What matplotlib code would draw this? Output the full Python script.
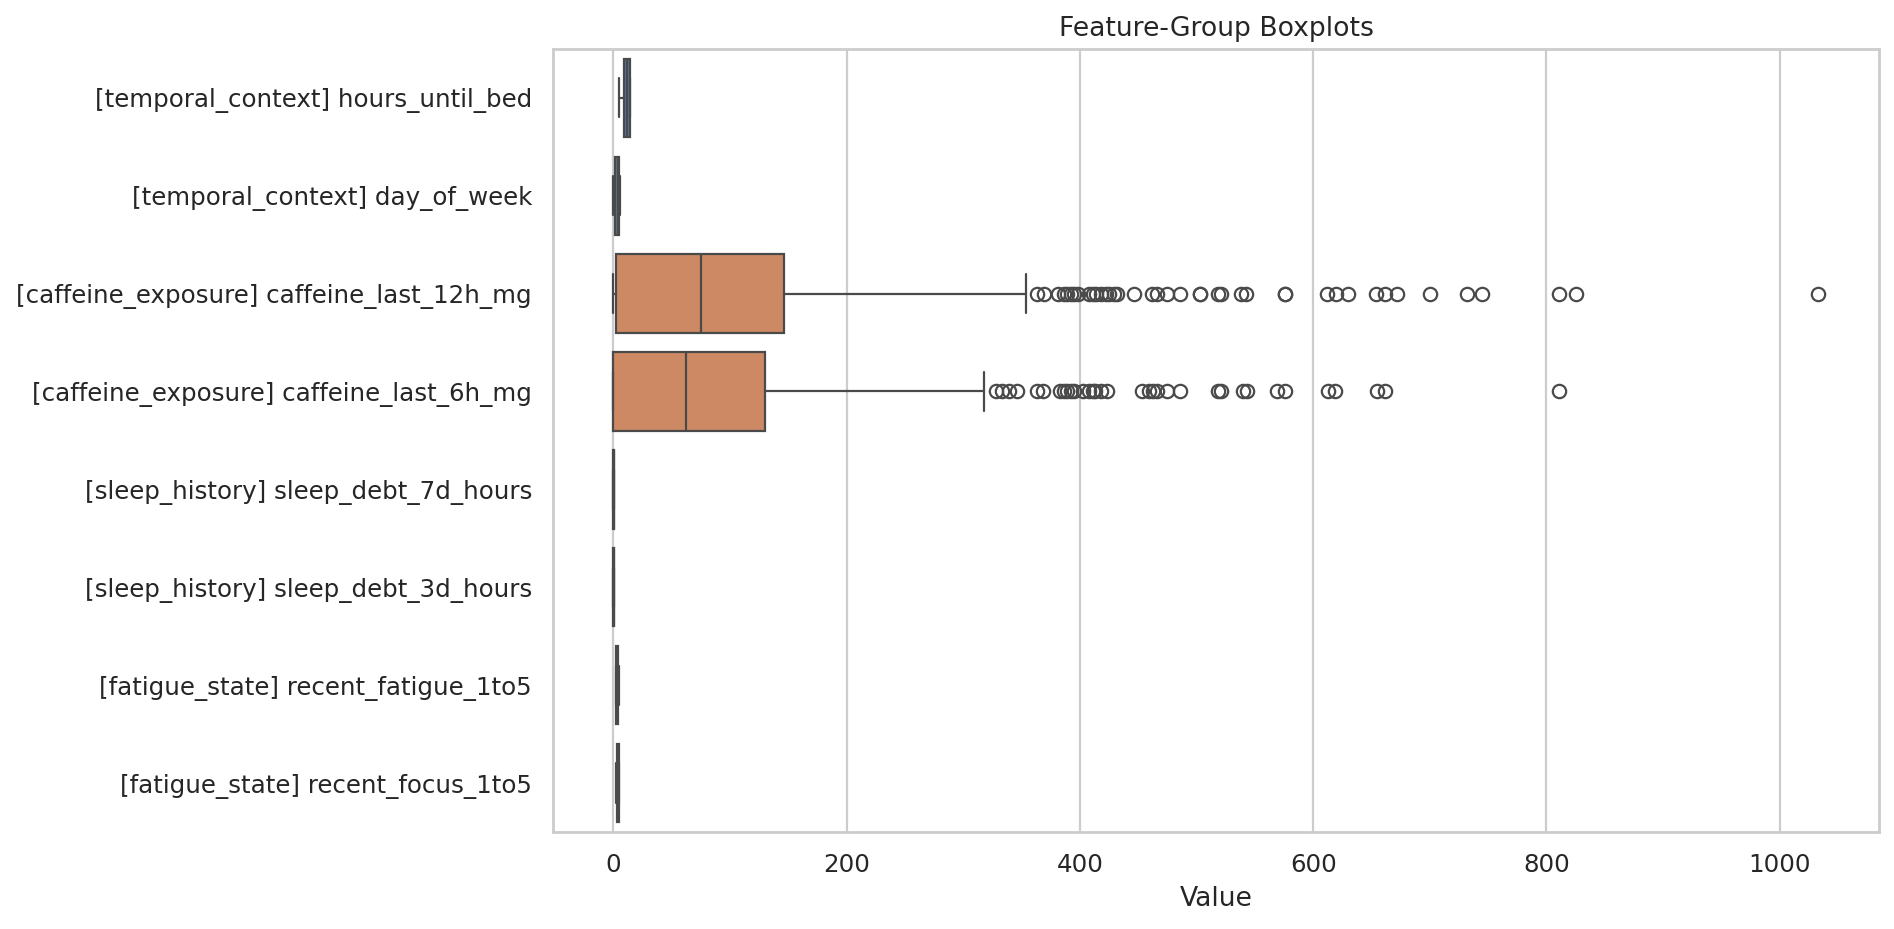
"""Horizontal boxplots of feature groups, rebuilt from summary statistics."""

import matplotlib

matplotlib.use("Agg")
import matplotlib.pyplot as plt
import seaborn as sns

labels = [
    "[temporal_context] hours_until_bed",
    "[temporal_context] day_of_week",
    "[caffeine_exposure] caffeine_last_12h_mg",
    "[caffeine_exposure] caffeine_last_6h_mg",
    "[sleep_history] sleep_debt_7d_hours",
    "[sleep_history] sleep_debt_3d_hours",
    "[fatigue_state] recent_fatigue_1to5",
    "[fatigue_state] recent_focus_1to5",
]
groups = [
    "temporal_context", "temporal_context",
    "caffeine_exposure", "caffeine_exposure",
    "sleep_history", "sleep_history",
    "fatigue_state", "fatigue_state",
]

# box summaries
whislo = [5, 0, 0, 0, -0.2, -0.2, 2, 2]
q1 = [9, 1, 2, 0, 0.0, 0.0, 2, 3]
med = [11.5, 4, 75, 62, 0.2, 0.2, 3, 4]
q3 = [14, 5, 146, 130, 0.4, 0.4, 4, 5]
whishi = [14.5, 6, 354, 318, 0.6, 0.6, 5, 5]

fliers_12h = [
    363, 369, 381, 386, 389, 392, 395, 398, 408, 411, 414, 418, 422, 425,
    429, 432, 446, 462, 466, 475, 486, 503, 503, 518, 521, 538, 542, 576,
    576, 612, 620, 630, 654, 662, 672, 700, 732, 745, 811, 825, 1033,
]
fliers_6h = [
    328, 333, 339, 346, 363, 368, 383, 386, 389, 392, 395, 403, 408, 411,
    413, 418, 423, 453, 459, 463, 466, 475, 486, 518, 521, 540, 543, 569,
    576, 613, 619, 655, 662, 811,
]
fliers = [[], [], fliers_12h, fliers_6h, [], [], [], []]

sns.set_theme(style="whitegrid")
palette = dict(zip(
    ["temporal_context", "caffeine_exposure", "sleep_history", "fatigue_state"],
    sns.color_palette("deep", 4),
))
line_color = "#4a4a4a"

stats = []
for i in range(len(labels)):
    stats.append({
        "whislo": whislo[i], "q1": q1[i], "med": med[i], "q3": q3[i],
        "whishi": whishi[i], "fliers": fliers[i],
    })

DPI = 160
fig = plt.figure(figsize=(1894 / DPI, 929 / DPI), dpi=DPI)
ax = fig.add_axes([0.292, 0.1044, 0.700, 0.843])

parts = ax.bxp(
    stats,
    positions=range(len(labels)),
    widths=0.8,
    capwidths=0.4,
    orientation="horizontal",
    patch_artist=True,
    boxprops=dict(edgecolor=line_color, linewidth=1.0),
    medianprops=dict(color=line_color, linewidth=1.0),
    whiskerprops=dict(color=line_color, linewidth=1.0),
    capprops=dict(color=line_color, linewidth=1.0),
    flierprops=dict(marker="o", markerfacecolor="none", markeredgecolor=line_color,
                    markersize=6, markeredgewidth=1.0),
)
for box, g in zip(parts["boxes"], groups):
    box.set_facecolor(sns.desaturate(palette[g], 0.75))

ax.set_yticks(range(len(labels)))
ax.set_yticklabels(labels, fontsize=11)
ax.set_ylim(len(labels) - 0.5, -0.5)
ax.set_xlim(-51.7, 1085)
ax.set_xticks([0, 200, 400, 600, 800, 1000])
ax.tick_params(axis="x", labelsize=11)
ax.grid(False, axis="y")
ax.grid(True, axis="x")
ax.set_xlabel("Value", fontsize=12)
ax.set_title("Feature-Group Boxplots", fontsize=12)

fig.savefig("out.png", dpi=DPI)
plt.close(fig)
